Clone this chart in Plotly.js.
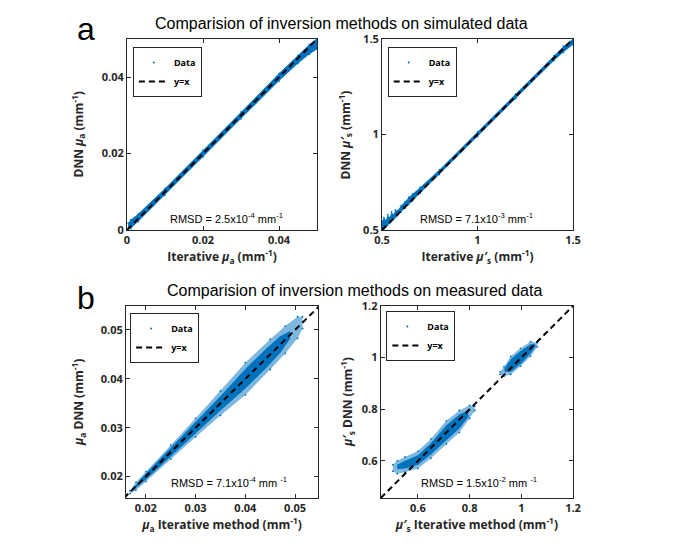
<!DOCTYPE html>
<html>
<head>
<meta charset="utf-8">
<script src="https://cdn.plot.ly/plotly-3.0.1.min.js"></script>
<style>
  html, body { margin: 0; padding: 0; background: #fff; }
  #chart { width: 685px; height: 549px; }
</style>
</head>
<body>
<div id="chart"></div>
<script>
// simulated mu_a (panel a, left): band of points
var simMuaX    = [0.0003, 0.001, 0.003, 0.01, 0.02, 0.03, 0.04, 0.045, 0.048, 0.05];
var simMuaLow  = [0.0002, 0.0004, 0.0022, 0.0091, 0.0191, 0.0291, 0.039, 0.0436, 0.046, 0.0473];
var simMuaHigh = [0.0018, 0.0027, 0.0043, 0.0109, 0.0209, 0.0309, 0.041, 0.0457, 0.0486, 0.0502];

// simulated mu_s' (panel a, right)
var simMusX    = [0.5, 0.51, 0.52, 0.53, 0.54, 0.55, 0.56, 0.57, 0.58, 0.6, 0.62, 0.64, 0.66, 0.7, 0.8, 1.0, 1.2, 1.4, 1.45, 1.5];
var simMusLow  = [0.5, 0.505, 0.515, 0.525, 0.535, 0.545, 0.555, 0.565, 0.575, 0.594, 0.614, 0.634, 0.653, 0.692, 0.79, 0.989, 1.188, 1.386, 1.43, 1.47];
var simMusHigh = [0.545, 0.565, 0.55, 0.58, 0.565, 0.595, 0.58, 0.605, 0.6, 0.628, 0.648, 0.672, 0.69, 0.724, 0.815, 1.013, 1.212, 1.412, 1.462, 1.502];

// measured mu_a (panel b, left): sparse halo and dense core
var measMuaX    = [0.0168, 0.018, 0.02, 0.025, 0.03, 0.035, 0.04, 0.045, 0.048, 0.0505, 0.0515];
var measMuaLow  = [0.0165, 0.0172, 0.019, 0.0236, 0.0281, 0.0325, 0.0367, 0.0419, 0.0452, 0.0483, 0.0503];
var measMuaHigh = [0.0171, 0.0188, 0.021, 0.0264, 0.0319, 0.0375, 0.0433, 0.0481, 0.0508, 0.0527, 0.0527];
var measMuaCoreX    = [0.0172, 0.02, 0.025, 0.03, 0.035, 0.04, 0.044, 0.047, 0.049];
var measMuaCoreLow  = [0.017, 0.0194, 0.0241, 0.0289, 0.0335, 0.038, 0.042, 0.0453, 0.0482];
var measMuaCoreHigh = [0.0174, 0.0206, 0.0259, 0.0311, 0.0365, 0.042, 0.046, 0.0487, 0.0498];

// measured mu_s' (panel b, right): two clusters
var measMusAX    = [0.503, 0.52, 0.55, 0.6, 0.65, 0.71, 0.76, 0.8, 0.82];
var measMusALow  = [0.56, 0.55, 0.556, 0.57, 0.61, 0.665, 0.71, 0.765, 0.795];
var measMusAHigh = [0.585, 0.6, 0.615, 0.638, 0.685, 0.755, 0.795, 0.815, 0.812];
var measMusACoreX    = [0.52, 0.55, 0.6, 0.65, 0.71, 0.76, 0.795];
var measMusACoreLow  = [0.568, 0.57, 0.585, 0.625, 0.68, 0.725, 0.77];
var measMusACoreHigh = [0.585, 0.6, 0.622, 0.668, 0.738, 0.78, 0.795];
var measMusBX    = [0.918, 0.933, 0.959, 0.997, 1.036, 1.062];
var measMusBLow  = [0.935, 0.928, 0.935, 0.967, 1.005, 1.042];
var measMusBHigh = [0.945, 0.965, 1.005, 1.036, 1.062, 1.058];
var measMusBCoreX    = [0.935, 0.96, 1.0, 1.035, 1.055];
var measMusBCoreLow  = [0.945, 0.945, 0.978, 1.015, 1.043];
var measMusBCoreHigh = [0.958, 0.995, 1.028, 1.052, 1.052];

// y=x reference lines
var idSimMua = [0, 0.05];
var idSimMus = [0.5, 1.5];
var idMeasMua = [0.0156, 0.0549];
var idMeasMus = [0.456, 1.2];

var blue = '#0072BD';
var halo = 'rgba(0,114,189,0.5)';
var boldFont = 'Open Sans, DejaVu Sans, sans-serif';
var plainFont = 'Liberation Sans, Arial, sans-serif';

// closed outline of a band: along the low edge, back along the high edge
function outline(xs, lo, hi) {
  return {
    x: xs.concat(xs.slice().reverse()),
    y: lo.concat(hi.slice().reverse())
  };
}

function joinOutlines(a, b) {
  return { x: a.x.concat([null], b.x), y: a.y.concat([null], b.y) };
}

function bandTrace(o, color, ax, ay) {
  return {
    x: o.x, y: o.y, xaxis: ax, yaxis: ay,
    type: 'scatter', mode: 'lines', fill: 'toself',
    fillcolor: color, line: { width: 0, color: color },
    showlegend: false, hoverinfo: 'skip'
  };
}

function dataTrace(o, ax, ay, leg) {
  return {
    x: o.x, y: o.y, xaxis: ax, yaxis: ay, legend: leg,
    type: 'scatter', mode: 'markers', name: 'Data',
    marker: { size: 1.8, color: blue }
  };
}

function idTrace(v, ax, ay, leg) {
  return {
    x: v, y: v, xaxis: ax, yaxis: ay, legend: leg,
    type: 'scatter', mode: 'lines', name: 'y=x',
    line: { color: 'black', width: 2, dash: '6px,4px' }
  };
}

var oSimMua = outline(simMuaX, simMuaLow, simMuaHigh);
var oSimMus = outline(simMusX, simMusLow, simMusHigh);
var oMeasMua = outline(measMuaX, measMuaLow, measMuaHigh);
var oMeasMuaCore = outline(measMuaCoreX, measMuaCoreLow, measMuaCoreHigh);
var oMeasMus = joinOutlines(outline(measMusAX, measMusALow, measMusAHigh),
                            outline(measMusBX, measMusBLow, measMusBHigh));
var oMeasMusCore = joinOutlines(outline(measMusACoreX, measMusACoreLow, measMusACoreHigh),
                                outline(measMusBCoreX, measMusBCoreLow, measMusBCoreHigh));

var traces = [
  bandTrace(oSimMua, blue, 'x', 'y'),
  dataTrace(oSimMua, 'x', 'y', 'legend'),
  idTrace(idSimMua, 'x', 'y', 'legend'),

  bandTrace(oSimMus, blue, 'x2', 'y2'),
  dataTrace(oSimMus, 'x2', 'y2', 'legend2'),
  idTrace(idSimMus, 'x2', 'y2', 'legend2'),

  bandTrace(oMeasMua, halo, 'x3', 'y3'),
  bandTrace(oMeasMuaCore, blue, 'x3', 'y3'),
  dataTrace(oMeasMua, 'x3', 'y3', 'legend3'),
  idTrace(idMeasMua, 'x3', 'y3', 'legend3'),

  bandTrace(oMeasMus, halo, 'x4', 'y4'),
  bandTrace(oMeasMusCore, blue, 'x4', 'y4'),
  dataTrace(oMeasMus, 'x4', 'y4', 'legend4'),
  idTrace(idMeasMus, 'x4', 'y4', 'legend4')
];

var titleFont = { family: boldFont, size: 12, color: '#262626', weight: 'bold' };

function axis(domain, range, tickvals, title, anchor) {
  var a = {
    domain: domain, range: range, anchor: anchor,
    tickvals: tickvals, ticks: 'inside', ticklen: 4, tickcolor: '#262626',
    showline: true, linecolor: '#262626', linewidth: 1, mirror: 'ticks',
    showgrid: false, zeroline: false,
    tickfont: { family: boldFont, size: 11, color: '#262626', weight: 'bold' }
  };
  if (title) a.title = { text: title, standoff: 4, font: titleFont };
  return a;
}

function legendAt(x, y) {
  return {
    x: x, y: y, xanchor: 'left', yanchor: 'top',
    bgcolor: 'white', bordercolor: '#262626', borderwidth: 1,
    font: { family: boldFont, size: 9, color: 'black', weight: 'bold' },
    itemwidth: 30, tracegroupgap: 0
  };
}

function note(x, y, text, size, family) {
  return { xref: 'paper', yref: 'paper', x: x, y: y, text: text, showarrow: false,
           xanchor: 'center', yanchor: 'middle',
           font: { family: family || plainFont, size: size, color: 'black' } };
}

// rotated y-axis title placed by hand
function yTitle(x, y, text) {
  return { xref: 'paper', yref: 'paper', x: x, y: y, text: text, showarrow: false,
           textangle: -90, xanchor: 'center', yanchor: 'middle', font: titleFont };
}

var muA = '<i>μ</i><sub>a</sub>';
var muS = '<i>μ′</i><sub>s</sub>';
var mm = '(mm<sup>-1</sup>)';

var layout = {
  width: 685, height: 549,
  margin: { l: 0, r: 0, t: 0, b: 0 },
  paper_bgcolor: 'white', plot_bgcolor: 'white',
  showlegend: true,
  xaxis:  axis([0.1854, 0.4628], [0, 0.05], [0, 0.02, 0.04], 'Iterative ' + muA + ' ' + mm, 'y'),
  yaxis:  axis([0.5811, 0.9290], [0, 0.05], [0, 0.02, 0.04], null, 'x'),
  xaxis2: axis([0.5577, 0.8365], [0.5, 1.5], [0.5, 1, 1.5], 'Iterative ' + muS + ' ' + mm, 'y2'),
  yaxis2: axis([0.5811, 0.9290], [0.5, 1.5], [0.5, 1, 1.5], null, 'x2'),
  xaxis3: axis([0.1839, 0.4642], [0.016, 0.0546], [0.02, 0.03, 0.04, 0.05], muA + ' Iterative method ' + mm, 'y3'),
  yaxis3: axis([0.0929, 0.4426], [0.0156, 0.0549], [0.02, 0.03, 0.04, 0.05], null, 'x3'),
  xaxis4: axis([0.5558, 0.8365], [0.456, 1.2], [0.6, 0.8, 1, 1.2], muS + ' Iterative method ' + mm, 'y4'),
  yaxis4: axis([0.0929, 0.4426], [0.456, 1.2], [0.6, 0.8, 1, 1.2], null, 'x4'),
  legend:  legendAt(0.194, 0.9144),
  legend2: legendAt(0.566, 0.9144),
  legend3: legendAt(0.190, 0.4300),
  legend4: legendAt(0.564, 0.4335),
  annotations: [
    note(0.499, 0.958, 'Comparision of inversion methods on simulated data', 16),
    note(0.518, 0.471, 'Comparision of inversion methods on measured data', 16),
    note(0.1255, 0.947, 'a', 32),
    note(0.1255, 0.457, 'b', 32),
    note(0.331, 0.603, 'RMSD = 2.5x10<sup>-4</sup> mm<sup>-1</sup>', 11),
    note(0.696, 0.603, 'RMSD = 7.1x10<sup>-3</sup> mm<sup>-1</sup>', 11),
    note(0.334, 0.122, 'RMSD = 7.1x10<sup>-4</sup> mm <sup>-1</sup>', 11),
    note(0.700, 0.122, 'RMSD = 1.5x10<sup>-2</sup> mm <sup>-1</sup>', 11),
    yTitle(0.1139, 0.7551, 'DNN ' + muA + ' ' + mm),
    yTitle(0.5036, 0.7551, 'DNN ' + muS + ' ' + mm),
    yTitle(0.1153, 0.2678, muA + ' DNN ' + mm),
    yTitle(0.5080, 0.2678, muS + ' DNN ' + mm)
  ]
};

Plotly.newPlot('chart', traces, layout, { displayModeBar: false, staticPlot: true });
</script>
</body>
</html>
